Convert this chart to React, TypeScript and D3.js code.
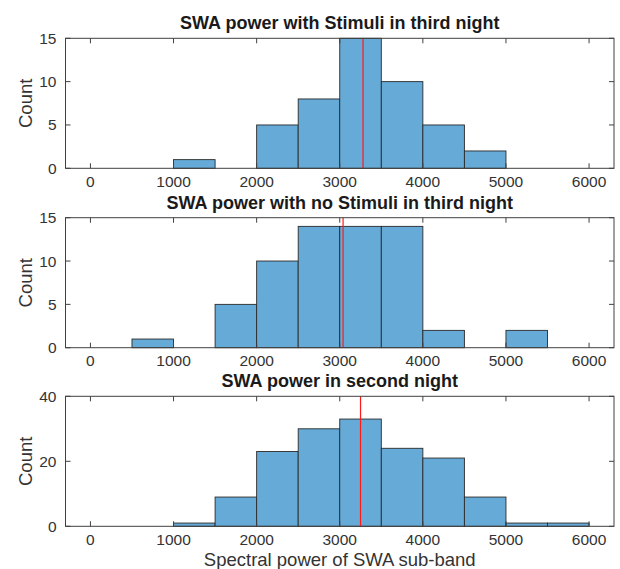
import React from "react";
import * as d3 from "d3";

const binStart = 0;
const binWidth = 500;
const stimCounts = [0, 0, 1, 0, 5, 8, 15, 10, 5, 2, 0, 0];
const noStimCounts = [0, 1, 0, 5, 10, 14, 14, 14, 2, 0, 2, 0];
const secondCounts = [0, 0, 1, 9, 23, 30, 33, 24, 21, 9, 1, 1];
const meanValues = [3280, 3040, 3250];
const titles = [
  "SWA power with Stimuli in third night",
  "SWA power with no Stimuli in third night",
  "SWA power in second night",
];
const yMaxes = [15, 15, 40];
const yTickSets = [
  [0, 5, 10, 15],
  [0, 5, 10, 15],
  [0, 20, 40],
];
const xTicks = [0, 1000, 2000, 3000, 4000, 5000, 6000];
const xDomain = [-300, 6300];
const yLabel = "Count";
const xLabel = "Spectral power of SWA sub-band";

const W = 620;
const H = 569;
const left = 65.5;
const right = 614;
const panelTops = [38.3, 217.7, 396.3];
const panelH = 130;
const font = "'Liberation Sans', Arial, Helvetica, sans-serif";
const axisColor = "#404040";
const textColor = "#333";
const barFill = "#66aad7";
const barStroke = "#2a2a2a";
const tickLen = 5;

const allCounts = [stimCounts, noStimCounts, secondCounts];

function Panel({ idx }: { idx: number }) {
  const top = panelTops[idx];
  const bottom = top + panelH;
  const x = d3.scaleLinear().domain(xDomain).range([left, right]);
  const y = d3.scaleLinear().domain([0, yMaxes[idx]]).range([bottom, top]);
  const counts = allCounts[idx];
  const bins = counts.map((c, i) => ({
    x0: binStart + i * binWidth,
    x1: binStart + (i + 1) * binWidth,
    c,
  }));
  return (
    <g>
      <text
        x={(left + right) / 2}
        y={top - 9}
        textAnchor="middle"
        fontFamily={font}
        fontWeight="bold"
        fontSize={18}
        fill="#1a1a1a"
      >
        {titles[idx]}
      </text>
      {/* bars */}
      {bins.map((b, i) => (
        <rect
          key={i}
          x={x(b.x0)}
          y={y(b.c)}
          width={x(b.x1) - x(b.x0)}
          height={y(0) - y(b.c)}
          fill={barFill}
          stroke={barStroke}
          strokeWidth={0.9}
        />
      ))}
      {/* mean line */}
      <line
        x1={x(meanValues[idx])}
        x2={x(meanValues[idx])}
        y1={top}
        y2={bottom}
        stroke="#ff1a1a"
        strokeWidth={1.2}
      />
      {/* axes box */}
      <rect
        x={left}
        y={top}
        width={right - left}
        height={panelH}
        fill="none"
        stroke={axisColor}
        strokeWidth={1}
      />
      {/* x ticks */}
      {xTicks.map((t) => (
        <g key={"x" + t}>
          <line x1={x(t)} x2={x(t)} y1={bottom} y2={bottom - tickLen} stroke={axisColor} />
          <line x1={x(t)} x2={x(t)} y1={top} y2={top + tickLen} stroke={axisColor} />
          <text
            x={x(t)}
            y={bottom + 18.5}
            textAnchor="middle"
            fontFamily={font}
            fontSize={15.5}
            fill={textColor}
          >
            {t}
          </text>
        </g>
      ))}
      {/* y ticks */}
      {yTickSets[idx].map((t) => (
        <g key={"y" + t}>
          <line x1={left} x2={left + tickLen} y1={y(t)} y2={y(t)} stroke={axisColor} />
          <line x1={right} x2={right - tickLen} y1={y(t)} y2={y(t)} stroke={axisColor} />
          <text
            x={left - 9}
            y={y(t) + 5.5}
            textAnchor="end"
            fontFamily={font}
            fontSize={15.5}
            fill={textColor}
          >
            {t}
          </text>
        </g>
      ))}
      <text
        transform={`translate(31.5, ${(top + bottom) / 2}) rotate(-90)`}
        textAnchor="middle"
        fontFamily={font}
        fontSize={18.5}
        fill={textColor}
      >
        {yLabel}
      </text>
    </g>
  );
}

export default function App() {
  return (
    <svg
      width={W}
      height={H}
      style={{ position: "absolute", left: 0, top: 0, background: "#fff" }}
    >
      <rect x={0} y={0} width={W} height={H} fill="#fff" />
      {[0, 1, 2].map((i) => (
        <Panel key={i} idx={i} />
      ))}
      <text
        x={(left + right) / 2}
        y={566}
        textAnchor="middle"
        fontFamily={font}
        fontSize={18.5}
        fill={textColor}
      >
        {xLabel}
      </text>
    </svg>
  );
}
